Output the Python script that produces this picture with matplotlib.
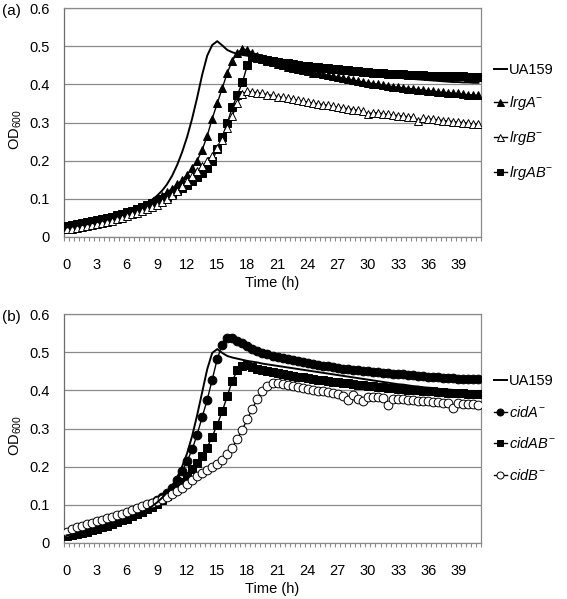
import numpy as np
import matplotlib
matplotlib.use("Agg")
import matplotlib.pyplot as plt
from matplotlib.ticker import FixedLocator

plt.rcParams['font.family'] = ['Liberation Sans', 'DejaVu Sans']
plt.rcParams['mathtext.fontset'] = 'custom'
plt.rcParams['mathtext.rm'] = 'Liberation Sans'
plt.rcParams['mathtext.it'] = 'Liberation Sans:italic'
plt.rcParams['mathtext.default'] = 'rm'

# time categories (h), every 0.5 h
hours = [i * 0.5 for i in range(83)]
xtick_vals = [0, 3, 6, 9, 12, 15, 18, 21, 24, 27, 30, 33, 36, 39]
ytick_vals = [0, 0.1, 0.2, 0.3, 0.4, 0.5, 0.6]
ytick_labels = ['0', '0.1', '0.2', '0.3', '0.4', '0.5', '0.6']

# ---- panel (a)
ua159_a = [0.025, 0.027, 0.029, 0.031, 0.033, 0.036, 0.039, 0.042, 0.045, 0.049,
           0.053, 0.057, 0.062, 0.067, 0.073, 0.080, 0.088, 0.097, 0.108, 0.121,
           0.138, 0.160, 0.188, 0.222, 0.262, 0.310, 0.365, 0.425, 0.475, 0.503,
           0.513, 0.502, 0.490, 0.484, 0.480, 0.477, 0.475, 0.473, 0.471, 0.469,
           0.467, 0.465, 0.463, 0.461, 0.459, 0.457, 0.455, 0.453, 0.451, 0.449,
           0.447, 0.445, 0.443, 0.441, 0.439, 0.437, 0.435, 0.433, 0.431, 0.429,
           0.427, 0.426, 0.424, 0.422, 0.421, 0.419, 0.418, 0.416, 0.415, 0.414,
           0.413, 0.412, 0.411, 0.410, 0.409, 0.408, 0.407, 0.406, 0.406, 0.405,
           0.405, 0.404, 0.404]
lrgA = [0.024, 0.026, 0.028, 0.030, 0.033, 0.036, 0.039, 0.042, 0.046, 0.050,
        0.054, 0.058, 0.063, 0.068, 0.073, 0.079, 0.085, 0.092, 0.100, 0.108,
        0.117, 0.127, 0.138, 0.150, 0.163, 0.180, 0.200, 0.228, 0.265, 0.310,
        0.350, 0.390, 0.430, 0.462, 0.482, 0.493, 0.490, 0.482, 0.474, 0.468,
        0.462, 0.458, 0.454, 0.450, 0.446, 0.443, 0.440, 0.437, 0.434, 0.431,
        0.429, 0.426, 0.424, 0.421, 0.419, 0.416, 0.414, 0.411, 0.409, 0.406,
        0.404, 0.402, 0.400, 0.398, 0.396, 0.394, 0.392, 0.391, 0.389, 0.388,
        0.386, 0.385, 0.383, 0.382, 0.380, 0.379, 0.378, 0.377, 0.376, 0.374,
        0.373, 0.372, 0.371]
lrgB = [0.020, 0.022, 0.024, 0.026, 0.028, 0.031, 0.034, 0.037, 0.040, 0.043,
        0.047, 0.051, 0.055, 0.059, 0.063, 0.068, 0.073, 0.078, 0.084, 0.091,
        0.100, 0.110, 0.121, 0.134, 0.148, 0.160, 0.172, 0.185, 0.198, 0.213,
        0.232, 0.255, 0.285, 0.318, 0.350, 0.375, 0.382, 0.380, 0.378, 0.376,
        0.373, 0.371, 0.368, 0.366, 0.363, 0.361, 0.358, 0.356, 0.354, 0.351,
        0.349, 0.347, 0.345, 0.342, 0.340, 0.338, 0.336, 0.334, 0.332, 0.330,
        0.322, 0.326, 0.325, 0.323, 0.321, 0.320, 0.318, 0.317, 0.315, 0.314,
        0.305, 0.311, 0.310, 0.308, 0.307, 0.305, 0.304, 0.302, 0.301, 0.300,
        0.298, 0.296, 0.295]
lrgAB = [0.030, 0.032, 0.034, 0.036, 0.038, 0.041, 0.044, 0.047, 0.050, 0.053,
         0.057, 0.061, 0.065, 0.069, 0.073, 0.078, 0.083, 0.088, 0.094, 0.100,
         0.106, 0.113, 0.120, 0.128, 0.137, 0.146, 0.156, 0.167, 0.180, 0.200,
         0.230, 0.262, 0.298, 0.340, 0.372, 0.405, 0.450, 0.472, 0.470, 0.467,
         0.464, 0.461, 0.459, 0.457, 0.455, 0.453, 0.451, 0.449, 0.447, 0.445,
         0.446, 0.444, 0.443, 0.441, 0.440, 0.438, 0.437, 0.436, 0.434, 0.433,
         0.432, 0.431, 0.430, 0.429, 0.428, 0.427, 0.426, 0.426, 0.425, 0.425,
         0.424, 0.424, 0.423, 0.423, 0.422, 0.422, 0.422, 0.421, 0.421, 0.421,
         0.420, 0.420, 0.420]

# ---- panel (b)
ua159_b = [0.020, 0.022, 0.024, 0.026, 0.029, 0.032, 0.035, 0.038, 0.042, 0.046,
           0.050, 0.055, 0.060, 0.066, 0.072, 0.079, 0.087, 0.096, 0.106, 0.118,
           0.132, 0.150, 0.172, 0.200, 0.235, 0.280, 0.335, 0.395, 0.455, 0.498,
           0.508, 0.498, 0.490, 0.486, 0.483, 0.480, 0.477, 0.475, 0.473, 0.470,
           0.468, 0.466, 0.464, 0.462, 0.460, 0.458, 0.456, 0.454, 0.452, 0.450,
           0.448, 0.446, 0.444, 0.442, 0.440, 0.438, 0.436, 0.434, 0.432, 0.430,
           0.428, 0.426, 0.424, 0.422, 0.420, 0.418, 0.416, 0.415, 0.413, 0.411,
           0.410, 0.408, 0.407, 0.406, 0.404, 0.403, 0.402, 0.401, 0.400, 0.399,
           0.398, 0.397, 0.396]
cidA = [0.020, 0.023, 0.026, 0.029, 0.033, 0.037, 0.042, 0.046, 0.051, 0.056,
        0.061, 0.066, 0.072, 0.078, 0.084, 0.090, 0.097, 0.104, 0.112, 0.120,
        0.130, 0.145, 0.165, 0.188, 0.214, 0.245, 0.284, 0.330, 0.375, 0.428,
        0.482, 0.520, 0.538, 0.537, 0.530, 0.524, 0.516, 0.509, 0.503, 0.498,
        0.494, 0.491, 0.488, 0.485, 0.482, 0.479, 0.476, 0.474, 0.471, 0.469,
        0.467, 0.465, 0.463, 0.461, 0.459, 0.457, 0.456, 0.454, 0.452, 0.451,
        0.450, 0.448, 0.447, 0.446, 0.445, 0.444, 0.443, 0.442, 0.440, 0.439,
        0.438, 0.437, 0.436, 0.435, 0.434, 0.433, 0.432, 0.432, 0.431, 0.430,
        0.430, 0.429, 0.429]
cidAB = [0.018, 0.020, 0.023, 0.026, 0.029, 0.033, 0.037, 0.041, 0.045, 0.050,
         0.054, 0.059, 0.064, 0.070, 0.075, 0.081, 0.088, 0.095, 0.103, 0.112,
         0.122, 0.133, 0.146, 0.160, 0.176, 0.193, 0.210, 0.228, 0.250, 0.279,
         0.310, 0.345, 0.385, 0.425, 0.452, 0.465, 0.466, 0.462, 0.456, 0.453,
         0.450, 0.447, 0.445, 0.442, 0.440, 0.438, 0.436, 0.434, 0.432, 0.430,
         0.428, 0.426, 0.425, 0.423, 0.421, 0.420, 0.418, 0.417, 0.415, 0.414,
         0.412, 0.411, 0.409, 0.408, 0.407, 0.405, 0.404, 0.403, 0.402, 0.401,
         0.400, 0.399, 0.398, 0.397, 0.396, 0.395, 0.394, 0.393, 0.392, 0.392,
         0.391, 0.390, 0.390]
cidB = [0.030, 0.036, 0.041, 0.045, 0.049, 0.053, 0.057, 0.061, 0.065, 0.069,
        0.073, 0.077, 0.081, 0.086, 0.091, 0.096, 0.101, 0.106, 0.111, 0.116,
        0.121, 0.128, 0.136, 0.145, 0.155, 0.165, 0.175, 0.183, 0.190, 0.198,
        0.207, 0.218, 0.232, 0.250, 0.272, 0.297, 0.325, 0.352, 0.378, 0.398,
        0.412, 0.418, 0.418, 0.416, 0.413, 0.411, 0.408, 0.405, 0.403, 0.401,
        0.399, 0.397, 0.395, 0.393, 0.390, 0.385, 0.375, 0.387, 0.378, 0.372,
        0.382, 0.383, 0.382, 0.380, 0.362, 0.378, 0.377, 0.376, 0.375, 0.374,
        0.373, 0.372, 0.371, 0.370, 0.369, 0.368, 0.367, 0.355, 0.366, 0.365,
        0.364, 0.363, 0.362]

legend_a = ['UA159', r'$\mathit{lrgA}^{-}$', r'$\mathit{lrgB}^{-}$', r'$\mathit{lrgAB}^{-}$']
legend_b = ['UA159', r'$\mathit{cidA}^{-}$', r'$\mathit{cidAB}^{-}$', r'$\mathit{cidB}^{-}$']

W, H = 567, 599
fig = plt.figure(figsize=(W / 100, H / 100), dpi=100)

FS = 10.5
GRID = '#8a8a8a'


def style_axes(ax):
    ax.set_xlim(-0.25, 41.25)
    ax.set_ylim(0, 0.6)
    ax.set_yticks(ytick_vals)
    ax.set_yticklabels(ytick_labels, fontsize=FS)
    ax.set_xticks(xtick_vals)
    ax.set_xticklabels([str(v) for v in xtick_vals], fontsize=FS)
    ax.xaxis.set_minor_locator(FixedLocator([-0.25 + 0.5 * k for k in range(84)]))
    ax.tick_params(axis='x', which='major', length=0, pad=15)
    ax.tick_params(axis='x', which='minor', length=3, width=0.8, color=GRID, direction='out')
    ax.tick_params(axis='y', which='major', length=0, pad=10)
    ax.grid(axis='y', color=GRID, linewidth=0.9)
    ax.set_axisbelow(True)
    for s in ['left', 'bottom', 'right', 'top']:
        ax.spines[s].set_color(GRID)
        ax.spines[s].set_linewidth(0.9)
    ax.spines['left'].set_color('#6e6e6e')
    ax.set_xlabel('Time (h)', fontsize=FS, labelpad=3)
    ax.set_ylabel(r'OD$_{600}$', fontsize=FS)
    ax.yaxis.set_label_coords(-0.095, 0.47)


ax1 = fig.add_axes([64 / W, 1 - 237 / H, (481 - 64) / W, (237 - 8) / H])
ax2 = fig.add_axes([64 / W, 1 - 543 / H, (481 - 64) / W, (543 - 314) / H])

# panel a
h_lrgA, = ax1.plot(hours, lrgA, color='black', lw=1, marker='^', ms=6.3,
                   mfc='black', mec='black', mew=0.7, zorder=3)
h_lrgAB, = ax1.plot(hours, lrgAB, color='black', lw=1, marker='s', ms=5.6,
                    mfc='black', mec='black', mew=0.7, zorder=4)
h_lrgB, = ax1.plot(hours, lrgB, color='black', lw=1, marker='^', ms=6.3,
                   mfc='white', mec='black', mew=0.7, zorder=5)
h_ua_a, = ax1.plot(hours, ua159_a, color='black', lw=1.4, zorder=6)
style_axes(ax1)
ax1.legend([h_ua_a, h_lrgA, h_lrgB, h_lrgAB], legend_a, loc='center left',
           bbox_to_anchor=(1.03, 0.5), frameon=False, fontsize=FS,
           handlelength=0.9, handletextpad=0.15, labelspacing=1.15,
           borderpad=0, borderaxespad=0, markerscale=0.8)

# panel b
h_cidA, = ax2.plot(hours, cidA, color='black', lw=1, marker='o', ms=6.3,
                   mfc='black', mec='black', mew=0.7, zorder=3)
h_cidAB, = ax2.plot(hours, cidAB, color='black', lw=1, marker='s', ms=5.8,
                    mfc='black', mec='black', mew=0.7, zorder=4)
h_cidB, = ax2.plot(hours, cidB, color='black', lw=1, marker='o', ms=6.3,
                   mfc='white', mec='black', mew=0.7, zorder=5)
h_ua_b, = ax2.plot(hours, ua159_b, color='black', lw=1.4, zorder=6)
style_axes(ax2)
ax2.legend([h_ua_b, h_cidA, h_cidAB, h_cidB], legend_b, loc='center left',
           bbox_to_anchor=(1.03, 0.5), frameon=False, fontsize=FS,
           handlelength=0.9, handletextpad=0.15, labelspacing=1.15,
           borderpad=0, borderaxespad=0, markerscale=0.8)

fig.text(2 / W, 1 - 4 / H, '(a)', fontsize=FS + 0.5, va='top', ha='left')
fig.text(2 / W, 1 - 310 / H, '(b)', fontsize=FS + 0.5, va='top', ha='left')

fig.savefig('out.png', dpi=100)
